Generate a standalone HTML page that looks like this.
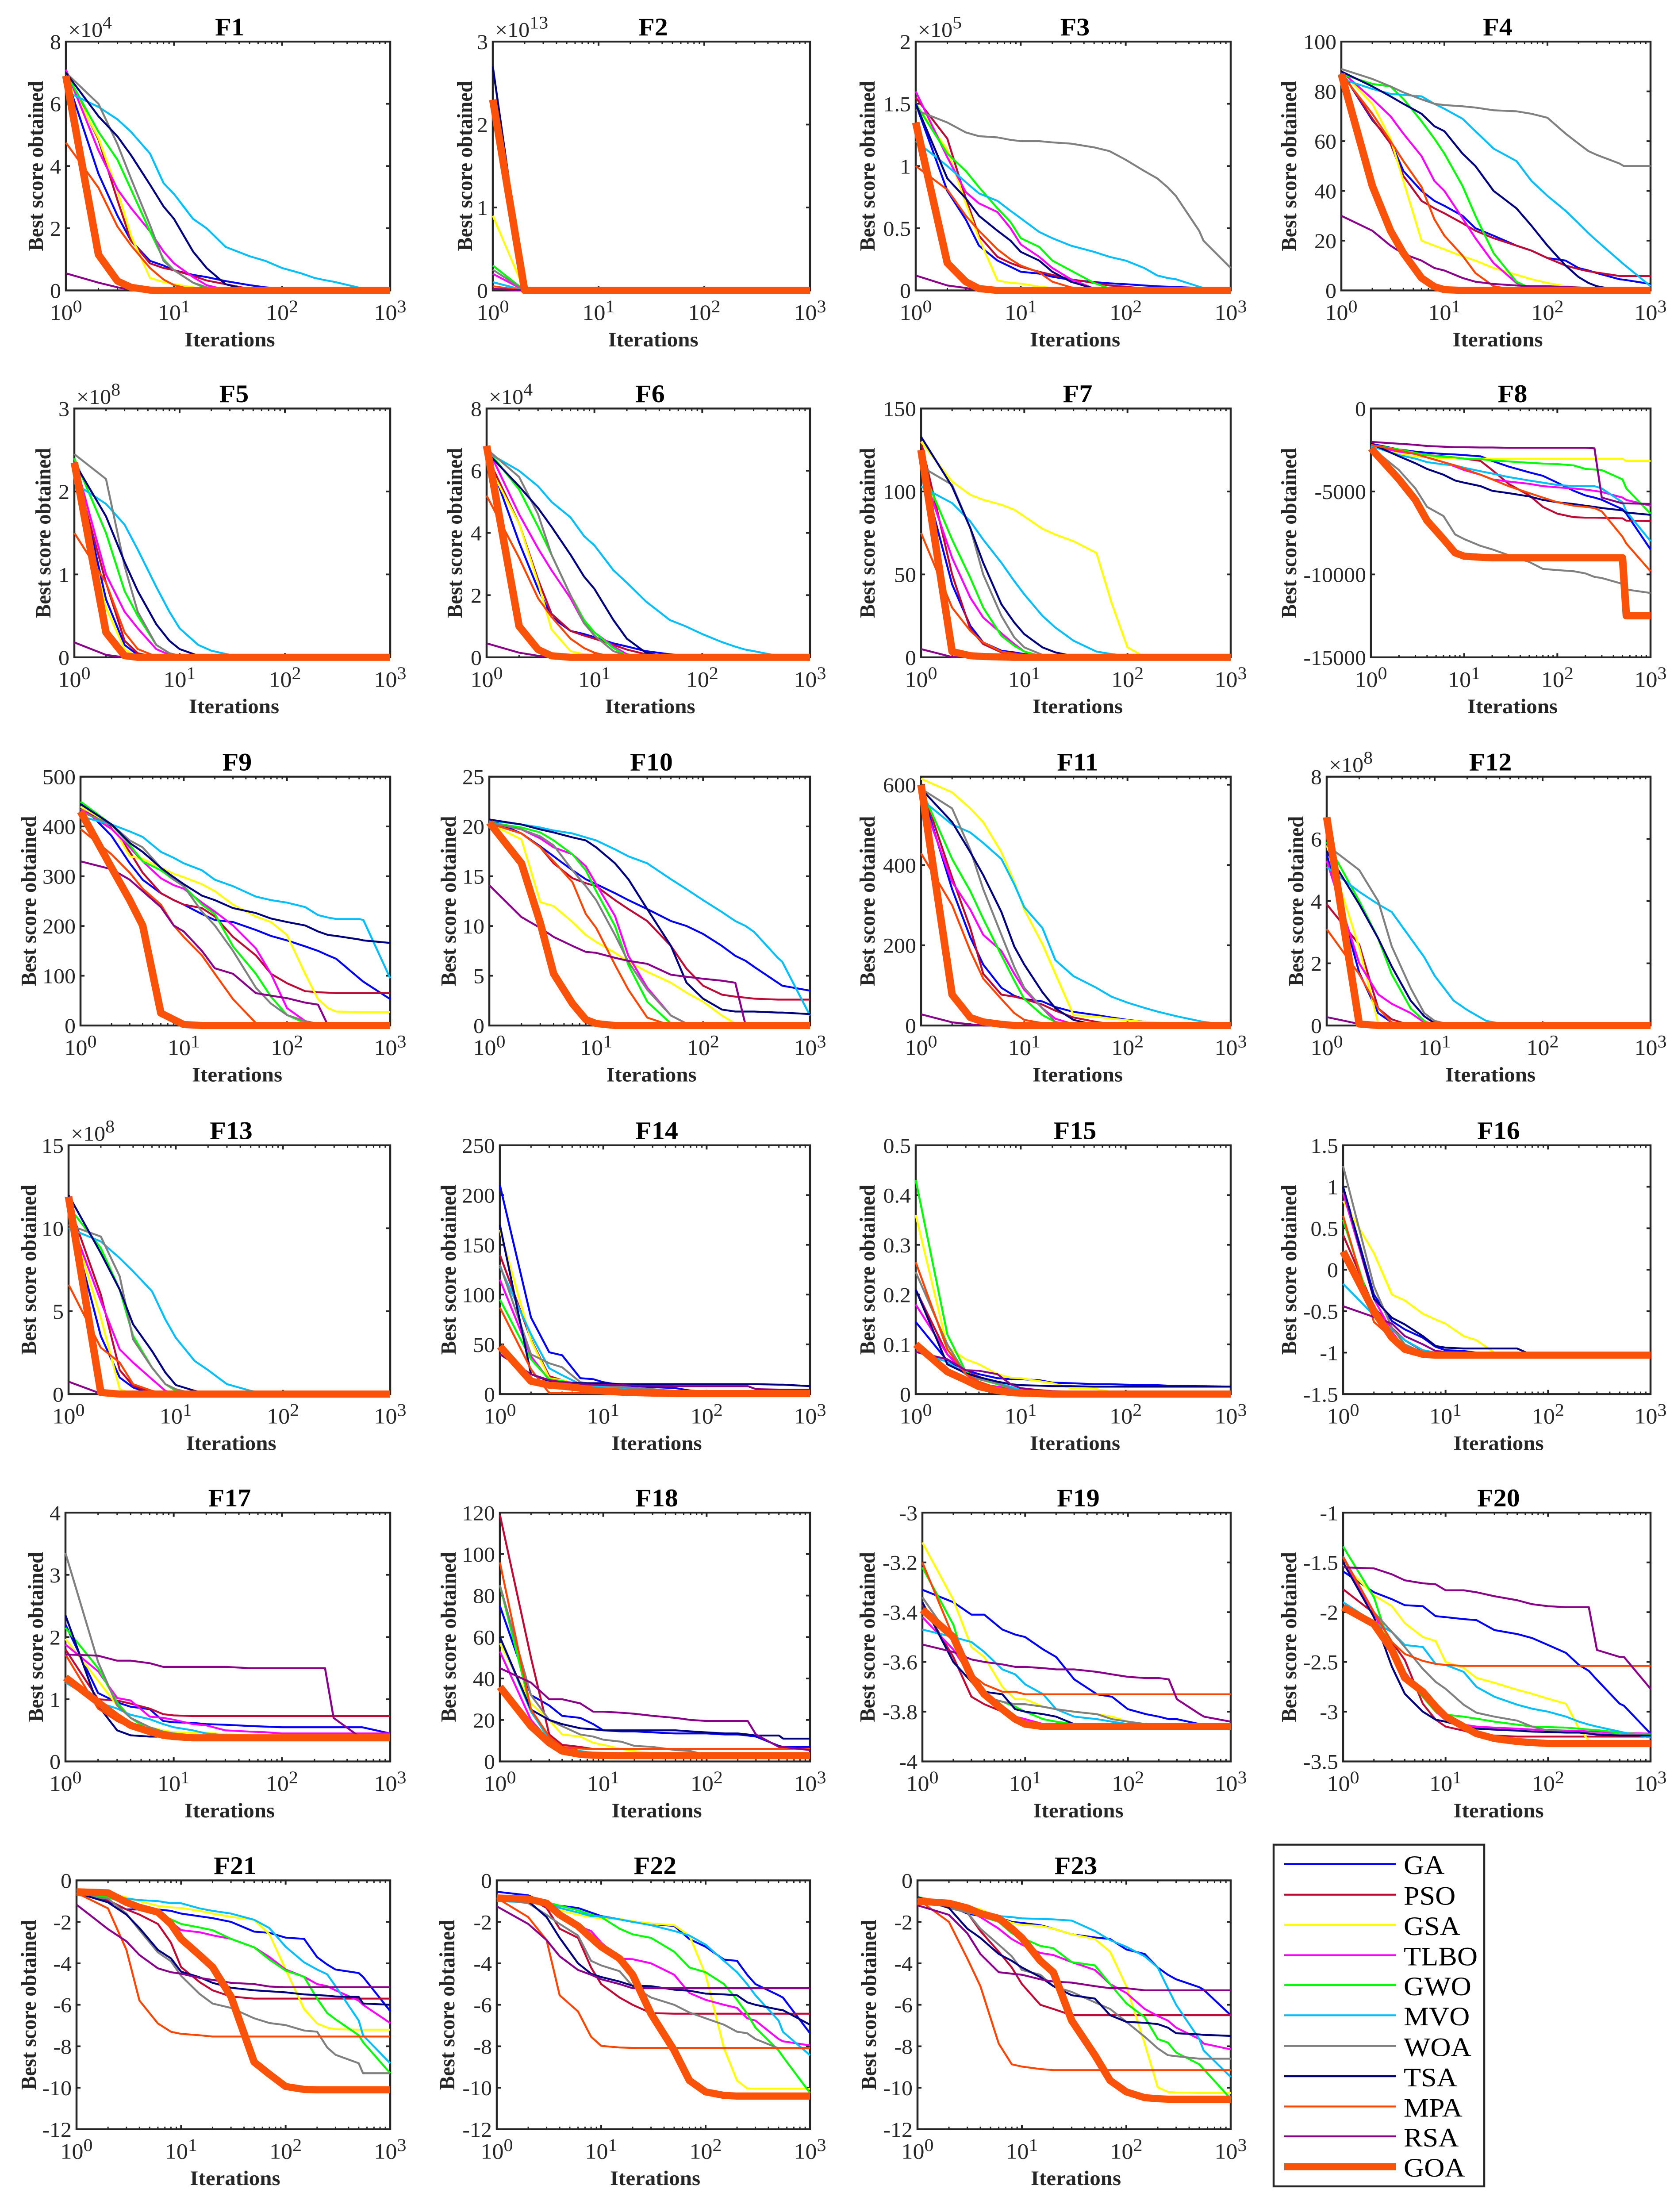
<!DOCTYPE html>
<html lang="en">
<head>
<meta charset="utf-8">
<title>Convergence curves F1-F23</title>
<style>
html,body{margin:0;padding:0;background:#fff;width:100%;height:100%;overflow:hidden}
svg{display:block;width:100vw;height:100vh}
text{font-family:"Liberation Serif",serif}
</style>
</head>
<body>
<svg id="figure" xmlns="http://www.w3.org/2000/svg" viewBox="0 0 3775 5263" preserveAspectRatio="none"></svg>
<script>
const iterations=[1,2,3,4,6,8,10,15,20,30,50,70,100,150,200,250,300,500,550,1000];
const seriesNames=['GA','PSO','GSA','TLBO','GWO','MVO','WOA','TSA','MPA','RSA','GOA'];
const seriesColors=['#0000ff','#c00a35','#ffff00','#ff00ff','#00ff00','#00bfff','#808080','#000080','#ff4500','#8b008b','#fa5208'];
const chartNames=['F1','F2','F3','F4','F5','F6','F7','F8','F9','F10','F11','F12','F13','F14','F15','F16','F17','F18','F19','F20','F21','F22','F23'];
const chartYTicks=[[0,2,4,6,8],[0,1,2,3],[0,0.5,1,1.5,2],[0,20,40,60,80,100],[0,1,2,3],[0,2,4,6,8],[0,50,100,150],[-15000,-10000,-5000,0],[0,100,200,300,400,500],[0,5,10,15,20,25],[0,200,400,600],[0,2,4,6,8],[0,5,10,15],[0,50,100,150,200,250],[0,0.1,0.2,0.3,0.4,0.5],[-1.5,-1,-0.5,0,0.5,1,1.5],[0,1,2,3,4],[0,20,40,60,80,100,120],[-4,-3.8,-3.6,-3.4,-3.2,-3],[-3.5,-3,-2.5,-2,-1.5,-1],[-12,-10,-8,-6,-4,-2,0],[-12,-10,-8,-6,-4,-2,0],[-12,-10,-8,-6,-4,-2,0]];
const chartYMax=[8,3,2,100,3,8,150,0,500,25,620,8,15,250,0.5,1.5,4,120,-3,-1,0,0,0];
const chartYExponents=[4,13,5,0,8,4,0,0,0,0,0,8,8,0,0,0,0,0,0,0,0,0,0];
const xTickExponents=[0,1,2,3];

const F1_GA=[6.9,3.75,2.4,1.6,.95,.8,.65,.5,.43,.3,.17,.1,.05,0];
const F1_PSO=[7,4.85,2.9,1.6,.87,.72,.65,.47,.32,.2,.05,0];
const F1_GSA=[6.9,4.9,3.2,1.76,.4,.27,.2,.1,.02,0];
const F1_TLBO=[7.1,4.5,3.25,2.65,1.9,1.25,.87,.43,.17,.02,0];
const F1_GWO=[7,5.1,4.2,3.25,1.9,1,.65,.25,.06,0];
const F1_MVO=[6.4,5.9,5.5,5.1,4.4,3.45,3.1,2.3,2,1.4,1.1,.95,.72,.55,.4,.33,.28,.1,.05,0];
const F1_WOA=[7,6,4.7,3.6,2.1,.95,.65,.25,.1,0];
const F1_TSA=[7,5.6,4.95,4.35,3.4,2.7,2.3,1.25,.72,.2,0];
const F1_MPA=[4.75,3.3,2.05,1.45,.72,.35,.17,.02,0];
const F1_RSA=[.55,.25,.1,.02,0];
const F1_GOA=[6.9,1.15,.3,.1,.01,0];
const F1_all=[F1_GA,F1_PSO,F1_GSA,F1_TLBO,F1_GWO,F1_MVO,F1_WOA,F1_TSA,F1_MPA,F1_RSA,F1_GOA];

const F2_GA=[.3,0];
const F2_PSO=[.1,0];
const F2_GSA=[.9,0];
const F2_TLBO=[.2,0];
const F2_GWO=[.3,0];
const F2_MVO=[.1,0];
const F2_WOA=[.25,0];
const F2_TSA=[2.7,0];
const F2_MPA=[.05,0];
const F2_RSA=[.02,0];
const F2_GOA=[2.3,0];
const F2_all=[F2_GA,F2_PSO,F2_GSA,F2_TLBO,F2_GWO,F2_MVO,F2_WOA,F2_TSA,F2_MPA,F2_RSA,F2_GOA];

const F3_GA=[1.5,.8,.57,.36,.24,.19,.15,.135,.11,.085,.067,.057,.05,.04,.033,.03,.028,.02,.02,.01];
const F3_PSO=[1.55,1.22,.74,.44,.27,.22,.19,.15,.125,.09,.06,.04,.03,.015,0];
const F3_GSA=[1.5,1.13,.7,.42,.08,.06,.055,.03,.02,.01,0];
const F3_TLBO=[1.6,1.07,.79,.7,.63,.5,.37,.27,.18,.09,.015,0];
const F3_GWO=[1.5,1.1,.96,.83,.66,.55,.42,.35,.24,.16,.06,.015,0];
const F3_MVO=[1.2,1,.87,.78,.72,.64,.58,.47,.42,.36,.31,.27,.24,.18,.12,.1,.09,.03,.02,0];
const F3_WOA=[1.45,1.35,1.27,1.24,1.23,1.21,1.2,1.2,1.19,1.18,1.15,1.12,1.05,.96,.9,.83,.76,.48,.4,.18];
const F3_TSA=[1.5,.9,.74,.6,.48,.4,.31,.24,.15,.07,.015,0];
const F3_MPA=[1,.81,.6,.48,.33,.25,.2,.145,.07,.025,0];
const F3_RSA=[.12,.04,.02,0];
const F3_GOA=[1.35,.22,.07,.015,0];
const F3_all=[F3_GA,F3_PSO,F3_GSA,F3_TLBO,F3_GWO,F3_MVO,F3_WOA,F3_TSA,F3_MPA,F3_RSA,F3_GOA];

const F4_GA=[88,68.5,60,48,40,36,34,30,25,22,18,16,13,12,9,8,7,4.5,4.3,2.6];
const F4_PSO=[88,69,59,46,36,33,31,27,24,21,18,16,13,10,8.6,7.7,7.2,5.8];
const F4_GSA=[88,75,61,44,20,18,16.5,13.7,12,9,6.3,4.5,3,1.7,1.2,1];
const F4_TLBO=[88,77,70,63,54,44,40,29,21,11,3,.7,0];
const F4_GWO=[87,83,82,77,68,61,55,42,30,15,3.5,.7,0];
const F4_MVO=[85,81,79,78.6,78,75,73,69,64,57,52,44,38,32,27,23,20,12,10.5,1.7];
const F4_WOA=[89,85,82,79.6,76.8,75,74.5,74,73.5,72.4,72,71,69.4,63,59,56,54.5,51,50,50];
const F4_TSA=[88,82,78,75,71,66,64,55,50,40,33,26,18,10,5.4,3,1.7,0];
const F4_MPA=[87,71,60,52,41.6,28.6,22,14,7,1.7,0];
const F4_RSA=[30,24,18,14.7,12,9,8,5,3.5,2.6,2,1.7,1.7,1.4,1.2,1];
const F4_GOA=[87,42,24,15,5,1.5,.3,0];
const F4_all=[F4_GA,F4_PSO,F4_GSA,F4_TLBO,F4_GWO,F4_MVO,F4_WOA,F4_TSA,F4_MPA,F4_RSA,F4_GOA];

const F5_GA=[2.4,.7,.15,.03,0];
const F5_PSO=[2.3,.9,.2,.05,0];
const F5_GSA=[2.2,.6,.1,0];
const F5_TLBO=[2.4,1,.55,.35,.1,.03,0];
const F5_GWO=[2.4,1.5,.8,.5,.15,.05,.02,0];
const F5_MVO=[2.1,1.85,1.6,1.3,.85,.55,.35,.15,.08,.03,.01,0];
const F5_WOA=[2.45,2.15,1.1,.55,.15,.05,.02,0];
const F5_TSA=[2.35,1.7,1.15,.8,.4,.2,.1,.02,0];
const F5_MPA=[1.5,.9,.3,.1,.01,0];
const F5_RSA=[.18,.03,0];
const F5_GOA=[2.35,.3,.02,0];
const F5_all=[F5_GA,F5_PSO,F5_GSA,F5_TLBO,F5_GWO,F5_MVO,F5_WOA,F5_TSA,F5_MPA,F5_RSA,F5_GOA];

const F6_GA=[6.6,3.7,2.2,1.3,.85,.75,.65,.45,.35,.2,.1,.05,0];
const F6_PSO=[6.5,4.3,2.5,1.4,.85,.7,.6,.4,.25,.1,.03,0];
const F6_GSA=[6.3,4.3,2.4,.9,.2,.1,.08,.02,0];
const F6_TLBO=[6.8,4.6,3.5,2.8,1.9,1.1,.8,.35,.1,0];
const F6_GWO=[6.7,5.4,4.2,3.3,2,1.2,.8,.3,.05,0];
const F6_MVO=[6.6,6,5.5,5,4.5,3.9,3.6,2.8,2.4,1.8,1.2,1,.75,.5,.35,.25,.2,.05,.03,0];
const F6_WOA=[6.7,5.8,4.6,3.3,2,1.1,.7,.2,.05,0];
const F6_TSA=[6.6,5.5,4.8,4.2,3.3,2.6,2.2,1.2,.6,.15,0];
const F6_MPA=[5.2,3.2,1.9,1.3,.6,.3,.15,0];
const F6_RSA=[.45,.15,.05,0];
const F6_GOA=[6.8,1,.25,.05,0];
const F6_all=[F6_GA,F6_PSO,F6_GSA,F6_TLBO,F6_GWO,F6_MVO,F6_WOA,F6_TSA,F6_MPA,F6_RSA,F6_GOA];

const F7_GA=[115,44,19,9,4,3,2,.7,0];
const F7_PSO=[130,50,17,8,3,2.5,1.5,.5,0];
const F7_GSA=[130,106,98,95,92,89,85,77.5,74,70,63,33,6,0];
const F7_TLBO=[115,60,36,24,14.5,8,3.5,0];
const F7_GWO=[115,71,48,30,13,7,3.5,.5,0];
const F7_MVO=[103,93,82,71,57,46,38,25,18,10,3.5,2,.7,0];
const F7_WOA=[115,104,78,50,25,12,6,1.5,0];
const F7_TSA=[133,103,78,57,32,21,14,6,3,.7,0];
const F7_MPA=[75,30,16,9,3.5,2,1.2,0];
const F7_RSA=[5,.2,0];
const F7_GOA=[125,3.5,1,.5,.2,0];
const F7_all=[F7_GA,F7_PSO,F7_GSA,F7_TLBO,F7_GWO,F7_MVO,F7_WOA,F7_TSA,F7_MPA,F7_RSA,F7_GOA];

const F8_GA=[-2120,-2470,-2600,-2670,-2740,-2770,-2810,-2880,-3160,-3500,-3850,-4060,-4470,-4960,-5240,-5370,-5500,-6070,-6340,-8490];
const F8_PSO=[-2190,-2470,-2670,-2810,-2880,-2950,-3020,-3160,-3710,-4540,-5240,-5930,-6340,-6550,-6580,-6580,-6590,-6620,-6760,-6790];
const F8_GSA=[-2260,-2740,-2880,-2950,-2990,-3000,-3020,-3020,-3030,-3030,-3030,-3030,-3030,-3030,-3030,-3030,-3030,-3030,-3160,-3160];
const F8_TLBO=[-2260,-2600,-2740,-2950,-3230,-3500,-3710,-3990,-4270,-4400,-4540,-4680,-4750,-4820,-4890,-4960,-5030,-5370,-5510,-5860];
const F8_GWO=[-2190,-2470,-2670,-2810,-2910,-2950,-3020,-3050,-3130,-3190,-3270,-3320,-3350,-3430,-3640,-3680,-3710,-4270,-4820,-6340];
const F8_MVO=[-2260,-2810,-3020,-3230,-3370,-3430,-3570,-3780,-3920,-4130,-4340,-4470,-4610,-4680,-4680,-4680,-4820,-5650,-6200,-8000];
const F8_WOA=[-2330,-3710,-4820,-5930,-6480,-7590,-7870,-8280,-8490,-8840,-9250,-9670,-9740,-9810,-9940,-10150,-10220,-10570,-10910,-11120];
const F8_TSA=[-2120,-2880,-3300,-3640,-3990,-4340,-4470,-4680,-4960,-5100,-5300,-5510,-5650,-5760,-5860,-5930,-6000,-6140,-6270,-6410];
const F8_MPA=[-2190,-2530,-2740,-2950,-3230,-3430,-3640,-3990,-4270,-4680,-5100,-5370,-5650,-5860,-5930,-6000,-6200,-7730,-8140,-9810];
const F8_RSA=[-2010,-2120,-2190,-2260,-2300,-2330,-2330,-2350,-2350,-2370,-2370,-2370,-2370,-2370,-2370,-2400,-5370,-5720,-5720,-5750];
const F8_GOA=[-2400,-4270,-5510,-6760,-7870,-8700,-8900,-8970,-9000,-9000,-9000,-9000,-9000,-9000,-9000,-9000,-9000,-9000,-12500,-12500];
const F8_all=[F8_GA,F8_PSO,F8_GSA,F8_TLBO,F8_GWO,F8_MVO,F8_WOA,F8_TSA,F8_MPA,F8_RSA,F8_GOA];

const F9_GA=[445,381,326,293,266,252,243,224,212,208,192,180,171,159,150,141,134,95,88,53];
const F9_PSO=[440,400,349,307,266,252,243,236,219,178,141,104,85,69,67,66,65];
const F9_GSA=[440,404,340,335,317,305,298,284,270,243,219,208,182,104,53,35,28,27];
const F9_TLBO=[435,395,358,330,296,282,275,247,229,201,155,104,35,9,3,0];
const F9_GWO=[450,404,363,330,312,293,280,243,224,159,104,58,21,5,0];
const F9_MVO=[420,404,390,379,349,337,326,312,293,280,259,252,247,238,222,217,214,214,212,95];
const F9_WOA=[430,404,372,358,317,293,280,229,201,150,76,44,21,9,0];
const F9_TSA=[445,404,367,349,317,298,284,261,252,236,226,215,208,201,189,182,180,173,171,166];
const F9_MPA=[395,344,307,275,243,201,178,141,104,53,5,0];
const F9_RSA=[330,314,293,270,238,201,189,150,115,104,65,60,55,46,42,0];
const F9_GOA=[430,317,252,201,25,12,2,0];
const F9_all=[F9_GA,F9_PSO,F9_GSA,F9_TLBO,F9_GWO,F9_MVO,F9_WOA,F9_TSA,F9_MPA,F9_RSA,F9_GOA];

const F10_GA=[20.7,19.3,18,17,15.6,14.7,14.2,13.3,12.6,11.7,10.5,10,9.2,8,7,6.5,5.9,4.3,4,3.5];
const F10_PSO=[20.4,19.3,17.9,16.3,14.8,14.3,14,12.6,11.7,10.5,8,5.7,4,3.1,2.9,2.8,2.7,2.6];
const F10_GSA=[20.3,18.7,12.4,12,10.4,9.1,8.4,7.3,6.4,5.4,4.3,3.3,2.4,1,.2,0];
const F10_TLBO=[20.4,19.7,18.8,17.9,17.2,16,14.2,11,7,3.8,1,.2,0];
const F10_GWO=[20.4,19.9,19.4,18.6,17.2,15.6,13.5,10,6.1,2.4,.2,0];
const F10_MVO=[20.6,20.2,19.9,19.6,19.3,18.9,18.6,17.7,17,16.3,14.7,13.7,12.6,11.4,10.5,10,9.4,6.8,6.4,1];
const F10_WOA=[20.4,19.7,19,18.1,15.6,14,12.6,9.1,6.4,3.6,1,.2,0];
const F10_TSA=[20.7,20.2,19.7,19.4,18.9,18.6,17.9,16.3,14.7,11.7,8,4.3,2.7,1.6,1.4,1.4,1.4,1.3,1.3,1.15];
const F10_MPA=[20.3,19.3,17.9,16.5,14.4,11.2,9.8,6.1,3.6,.8,0];
const F10_RSA=[14.1,10.9,9.8,8.9,8,7.4,7.3,6.8,6.5,6.2,5.1,4.9,4.7,4.5,4.3,0];
const F10_GOA=[20.4,16.3,10.3,5.2,2.2,.6,.2,0];
const F10_all=[F10_GA,F10_PSO,F10_GSA,F10_TLBO,F10_GWO,F10_MVO,F10_WOA,F10_TSA,F10_MPA,F10_RSA,F10_GOA];

const F11_GA=[590,340,220,152,94,74,66,60,46,34,26,20,14,9,3,0];
const F11_PSO=[600,369,243,129,77,72,66,52,37,20,9,3,0];
const F11_GSA=[615,581,541,507,432,358,289,203,129,26,22,17,13,9,7,6,5,0];
const F11_TLBO=[570,358,289,226,186,129,89,43,17,3,0];
const F11_GWO=[590,415,335,266,175,112,66,26,9,0];
const F11_MVO=[564,501,481,455,415,352,295,243,163,123,94,72,57,43,34,28,23,11,9,0];
const F11_WOA=[590,541,438,340,226,146,94,43,9,0];
const F11_TSA=[590,507,432,375,283,197,152,83,43,14,0];
const F11_MPA=[429,300,186,117,66,31,14,6,0];
const F11_RSA=[28,8,3,0];
const F11_GOA=[600,77,20,9,3,0];
const F11_all=[F11_GA,F11_PSO,F11_GSA,F11_TLBO,F11_GWO,F11_MVO,F11_WOA,F11_TSA,F11_MPA,F11_RSA,F11_GOA];

const F12_GA=[5.5,1.7,.4,.1,0];
const F12_PSO=[3.9,2.6,.55,.2,0];
const F12_GSA=[5.8,2.5,.07,0];
const F12_TLBO=[5.3,2,1,.7,.4,.1,0];
const F12_GWO=[5.9,4,2.8,1.65,.55,.15,0];
const F12_MVO=[5.1,4.3,3.9,3.65,2.8,2.2,1.6,.8,.5,.15,0];
const F12_WOA=[5.8,5,4,2.55,1.2,.4,.15,0];
const F12_TSA=[5.6,3.9,2.8,1.9,.8,.3,.07,0];
const F12_MPA=[3.1,1.65,.55,.1,0];
const F12_RSA=[.27,.05,0];
const F12_GOA=[6.7,.05,0];
const F12_all=[F12_GA,F12_PSO,F12_GSA,F12_TLBO,F12_GWO,F12_MVO,F12_WOA,F12_TSA,F12_MPA,F12_RSA,F12_GOA];

const F13_GA=[11,3.5,1,.4,0];
const F13_PSO=[11.5,6,1.45,.5,.1,0];
const F13_GSA=[11,4.6,.3,0];
const F13_TLBO=[10.8,5.6,2.7,1.9,.9,.2,0];
const F13_GWO=[11.3,8.8,6.3,3.5,1.6,.6,.2,0];
const F13_MVO=[10,9.2,8.2,7.4,6.2,4.5,3.4,2,1.45,.6,.2,0];
const F13_WOA=[10.2,9.5,7.1,3.3,1.6,.6,.3,0];
const F13_TSA=[12,8.5,6.3,4.2,2.6,1.3,.55,.2,0];
const F13_MPA=[6.6,2.8,1.9,.6,.2,0];
const F13_RSA=[.75,.03,0];
const F13_GOA=[11.9,.1,0];
const F13_all=[F13_GA,F13_PSO,F13_GSA,F13_TLBO,F13_GWO,F13_MVO,F13_WOA,F13_TSA,F13_MPA,F13_RSA,F13_GOA];

const F14_GA=[210,77,42,39,16,15,12,9,8,7,6,3.5,2.5,2];
const F14_PSO=[140,55,18,14,9,8,7,5,3,2];
const F14_GSA=[165,54,16,14,9,8,7,6,5,4.6,3.5,2];
const F14_TLBO=[115,38,14,13,10,8,7,5,4,3,2];
const F14_GWO=[95,35,15,13,10,8,7,6,5,4,3,2];
const F14_MVO=[128,60,26,19,10,8,7,6,5,4,3,2];
const F14_WOA=[130,40,31,27,12,10,9,7,6,5,3,2];
const F14_TSA=[170,20,13,12,11,11,11,10,10,10,10,10,10,10,10,10,10,9.5,9.5,8];
const F14_MPA=[87,25,1,1,1,.8,.5,0];
const F14_RSA=[40,20,14,12,10,9.5,9,9,8.5,8.5,8,8,8,8,8,8,5,4.5,4.5,4.5];
const F14_GOA=[48,13,9,8,6,4,3,2,1.5,1,.5];
const F14_all=[F14_GA,F14_PSO,F14_GSA,F14_TLBO,F14_GWO,F14_MVO,F14_WOA,F14_TSA,F14_MPA,F14_RSA,F14_GOA];

const F15_GA=[.145,.067,.048,.04,.032,.03,.03,.028,.023,.022,.02,.02,.019,.018,.018,.017,.017,.016,.016,.015];
const F15_PSO=[.21,.08,.045,.035,.02,.012,.008,.005,.004,.003,.002,.001,0];
const F15_GSA=[.36,.095,.07,.06,.04,.033,.032,.026,.022,.012,.011,.005,.002,0];
const F15_TLBO=[.18,.08,.04,.02,.015,.012,.008,.006,.005,.004,.002,.001,0];
const F15_GWO=[.43,.12,.045,.03,.02,.012,.007,.005,.004,.003,.002,.001,0];
const F15_MVO=[.085,.065,.04,.03,.022,.015,.008,.003,.002,.001,0];
const F15_WOA=[.245,.1,.04,.03,.022,.012,.003,.002,.001,0];
const F15_TSA=[.21,.06,.042,.034,.025,.02,.018,.017,.016,.016,.015];
const F15_MPA=[.265,.09,.04,.025,.012,.005,.002,.001,0];
const F15_RSA=[.085,.07,.048,.047,.04,.02,.012,.008,.006,.005,.004,.003,.002,.001,0];
const F15_GOA=[.1,.045,.028,.015,.007,.003,.002,.001,0];
const F15_all=[F15_GA,F15_PSO,F15_GSA,F15_TLBO,F15_GWO,F15_MVO,F15_WOA,F15_TSA,F15_MPA,F15_RSA,F15_GOA];

const F16_GA=[1,-.3,-.62,-.72,-.82,-.93,-.97,-.98,-1,-1.02,-1.03];
const F16_PSO=[.42,-.45,-.7,-.85,-.98,-1.01,-1.02,-1.03];
const F16_GSA=[.83,.2,-.3,-.37,-.53,-.6,-.65,-.8,-.85,-1,-1.01,-1.03];
const F16_TLBO=[.93,-.35,-.75,-.95,-1.01,-1.02,-1.03];
const F16_GWO=[.6,-.55,-.85,-.95,-1.01,-1.03];
const F16_MVO=[-.17,-.55,-.72,-.85,-.97,-1,-1.01,-1.02,-1.03];
const F16_WOA=[1.25,-.2,-.7,-.9,-1,-1.01,-1.03];
const F16_TSA=[1,-.35,-.58,-.66,-.8,-.92,-.94,-.95,-.95,-.95,-.95,-1.03];
const F16_MPA=[.65,-.63,-.82,-.95,-1,-1.02,-1.03];
const F16_RSA=[-.44,-.57,-.65,-.8,-.9,-.98,-.99,-1,-1.03];
const F16_GOA=[.22,-.5,-.82,-.96,-1.02,-1.03];
const F16_all=[F16_GA,F16_PSO,F16_GSA,F16_TLBO,F16_GWO,F16_MVO,F16_WOA,F16_TSA,F16_MPA,F16_RSA,F16_GOA];

const F17_GA=[2.2,1.1,.95,.88,.84,.65,.63,.62,.6,.59,.57,.56,.55,.55,.55,.55,.55,.55,.55,.45];
const F17_PSO=[1.8,1,.98,.93,.85,.76,.74,.73];
const F17_GSA=[1.97,1.3,.9,.7,.55,.5,.47,.46,.46,.44,.42,.4];
const F17_TLBO=[1.88,1.45,1.02,.98,.72,.7,.67,.6,.58,.5,.48,.47,.45];
const F17_GWO=[2.15,1.5,.95,.7,.5,.45,.43,.41,.4];
const F17_MVO=[1.27,.95,.85,.75,.68,.6,.55,.5,.45,.42,.4];
const F17_WOA=[3.35,1.6,.9,.7,.55,.48,.45,.42,.4];
const F17_TSA=[2.35,.9,.5,.42,.4];
const F17_MPA=[1.72,.85,.65,.55,.48,.43,.41,.4];
const F17_RSA=[1.72,1.7,1.62,1.62,1.58,1.52,1.52,1.52,1.52,1.52,1.5,1.5,1.5,1.5,1.5,1.5,.7,.42,.4];
const F17_GOA=[1.35,.95,.72,.58,.48,.42,.4,.38];
const F17_all=[F17_GA,F17_PSO,F17_GSA,F17_TLBO,F17_GWO,F17_MVO,F17_WOA,F17_TSA,F17_MPA,F17_RSA,F17_GOA];

const F18_GA=[75,32,27,22,21,18,15,14.5,14.5,14,13.5,13.5,13.5,13,13,12.5,12,7.5,7,7];
const F18_PSO=[119,50,13,8,7,6];
const F18_GSA=[57,28,20,13,12,9,8,6,5,4,3];
const F18_TLBO=[53,20,10,7,5,4,3.5,3];
const F18_GWO=[85,25,10,6,5,4,3.5,3];
const F18_MVO=[60,24,11,6,5,4,3.5,3];
const F18_WOA=[85,32,20,17,13,12,10.5,9.5,7.5,7,5.5,5,3];
const F18_TSA=[60,25,20,18,16,15.5,15,15,15,15,15,14.5,14,13.5,13.5,13,12.5,12.5,11,11];
const F18_MPA=[96,25,12,7,6.2,6];
const F18_RSA=[45,38,30,30,28,24,24,23.5,23,22,21,20,19.5,19.5,19.5,19.5,13,7,7,5.5];
const F18_GOA=[36,17,9,5,3.4,3,2.9,2.8];
const F18_all=[F18_GA,F18_PSO,F18_GSA,F18_TLBO,F18_GWO,F18_MVO,F18_WOA,F18_TSA,F18_MPA,F18_RSA,F18_GOA];

const F19_GA=[-3.31,-3.36,-3.41,-3.41,-3.47,-3.49,-3.5,-3.55,-3.58,-3.67,-3.73,-3.74,-3.79,-3.81,-3.82,-3.83,-3.83,-3.85,-3.85,-3.86];
const F19_PSO=[-3.37,-3.58,-3.74,-3.77,-3.8,-3.82,-3.83,-3.85,-3.86];
const F19_GSA=[-3.12,-3.35,-3.54,-3.58,-3.7,-3.75,-3.75,-3.78,-3.79,-3.8,-3.81,-3.82,-3.84,-3.85,-3.85,-3.86];
const F19_TLBO=[-3.42,-3.55,-3.66,-3.73,-3.78,-3.82,-3.83,-3.85,-3.85,-3.86];
const F19_GWO=[-3.22,-3.45,-3.68,-3.74,-3.76,-3.78,-3.8,-3.83,-3.84,-3.85,-3.85,-3.86];
const F19_MVO=[-3.47,-3.5,-3.52,-3.56,-3.63,-3.65,-3.69,-3.73,-3.79,-3.82,-3.83,-3.84,-3.85,-3.85,-3.86];
const F19_WOA=[-3.34,-3.52,-3.68,-3.74,-3.76,-3.77,-3.77,-3.78,-3.79,-3.8,-3.81,-3.83,-3.84,-3.85,-3.85,-3.86];
const F19_TSA=[-3.36,-3.6,-3.68,-3.72,-3.73,-3.79,-3.8,-3.81,-3.82,-3.85,-3.86];
const F19_MPA=[-3.2,-3.5,-3.65,-3.69,-3.72,-3.72,-3.73];
const F19_RSA=[-3.53,-3.56,-3.59,-3.6,-3.61,-3.62,-3.62,-3.625,-3.63,-3.63,-3.64,-3.65,-3.66,-3.665,-3.665,-3.67,-3.75,-3.81,-3.82,-3.84];
const F19_GOA=[-3.39,-3.5,-3.66,-3.73,-3.79,-3.83,-3.85,-3.86];
const F19_all=[F19_GA,F19_PSO,F19_GSA,F19_TLBO,F19_GWO,F19_MVO,F19_WOA,F19_TSA,F19_MPA,F19_RSA,F19_GOA];

const F20_GA=[-1.59,-1.8,-1.87,-1.93,-1.94,-2.04,-2.05,-2.07,-2.08,-2.18,-2.22,-2.26,-2.33,-2.41,-2.53,-2.59,-2.68,-2.92,-2.94,-3.22];
const F20_PSO=[-1.77,-2.01,-2.3,-2.48,-2.92,-3.08,-3.15,-3.19,-3.23,-3.24,-3.25];
const F20_GSA=[-1.52,-1.83,-1.94,-2.11,-2.25,-2.29,-2.5,-2.56,-2.66,-2.71,-2.78,-2.82,-2.87,-2.92,-3.17,-3.29,-3.3];
const F20_TLBO=[-1.5,-2,-2.42,-2.6,-2.85,-3,-3.08,-3.13,-3.15,-3.16,-3.17,-3.18,-3.185,-3.19,-3.19,-3.2,-3.2,-3.21,-3.215,-3.22];
const F20_GWO=[-1.34,-1.85,-2.4,-2.65,-2.85,-3,-3.03,-3.05,-3.07,-3.1,-3.13,-3.15,-3.155,-3.16,-3.17,-3.18,-3.185,-3.21,-3.215,-3.23];
const F20_MVO=[-1.9,-2.1,-2.2,-2.33,-2.35,-2.52,-2.53,-2.6,-2.75,-2.85,-2.93,-2.97,-3,-3.05,-3.1,-3.13,-3.15,-3.2,-3.21,-3.26];
const F20_WOA=[-1.44,-2,-2.2,-2.35,-2.57,-2.7,-2.77,-2.93,-3.01,-3.05,-3.09,-3.15,-3.19,-3.2,-3.21,-3.22,-3.22,-3.23,-3.23,-3.24];
const F20_TSA=[-1.5,-2.05,-2.55,-2.82,-3,-3.08,-3.1,-3.15,-3.17,-3.18,-3.19,-3.2,-3.205,-3.21,-3.21,-3.22,-3.23,-3.24];
const F20_MPA=[-1.45,-2,-2.3,-2.42,-2.49,-2.52,-2.53,-2.54];
const F20_RSA=[-1.55,-1.56,-1.62,-1.68,-1.71,-1.72,-1.78,-1.78,-1.8,-1.84,-1.88,-1.92,-1.94,-1.95,-1.95,-1.95,-2.38,-2.45,-2.45,-2.77];
const F20_GOA=[-1.95,-2.12,-2.38,-2.66,-2.8,-2.95,-3.05,-3.15,-3.22,-3.27,-3.3,-3.31,-3.32];
const F20_all=[F20_GA,F20_PSO,F20_GSA,F20_TLBO,F20_GWO,F20_MVO,F20_WOA,F20_TSA,F20_MPA,F20_RSA,F20_GOA];

const F21_GA=[-.6,-1,-1.4,-1.4,-1.4,-1.47,-1.6,-1.73,-1.82,-2,-2.47,-2.53,-2.76,-2.82,-3.7,-4.06,-4.3,-4.47,-4.65,-6.3];
const F21_PSO=[-.6,-.95,-1.4,-1.65,-2.1,-3,-4.18,-4.9,-5.3,-5.6,-5.7];
const F21_GSA=[-.45,-.6,-.82,-1,-1.23,-1.3,-1.33,-1.47,-1.6,-1.76,-1.9,-2.6,-4.3,-6.2,-6.9,-7.1,-7.18,-7.2];
const F21_TLBO=[-.6,-.76,-1,-1.23,-1.6,-2,-2.4,-2.5,-2.65,-2.82,-3.23,-3.7,-4.3,-4.65,-5,-5.1,-5.3,-5.8,-6,-6.88];
const F21_GWO=[-.6,-.82,-1.1,-1.35,-1.6,-1.88,-2.1,-2.27,-2.4,-2.82,-3.23,-3.82,-4.35,-4.65,-5.7,-6.4,-6.7,-7.47,-7.8,-9.3];
const F21_MVO=[-.6,-.65,-.88,-.95,-1,-1.1,-1.1,-1.35,-1.47,-1.6,-1.9,-2.3,-3.2,-3.95,-4.3,-4.53,-5.1,-6.76,-7.47,-8.82];
const F21_WOA=[-.7,-.88,-1.6,-2.4,-3.47,-3.9,-4.6,-5.47,-5.94,-6.15,-6.65,-6.88,-6.98,-7.24,-7.3,-8.06,-8.41,-8.82,-9.3];
const F21_TSA=[-.6,-1.06,-1.65,-2.3,-3.35,-3.76,-4.4,-4.67,-4.94,-5.18,-5.3,-5.35,-5.4,-5.5,-5.53,-5.56,-5.6,-5.62,-5.94,-6];
const F21_MPA=[-.6,-1.35,-3.35,-5.8,-6.9,-7.3,-7.4,-7.47,-7.53];
const F21_RSA=[-1.17,-2.35,-2.94,-3.6,-4.24,-4.43,-4.5,-4.7,-4.8,-4.94,-5,-5.12,-5.15];
const F21_GOA=[-.55,-.6,-1.06,-1.3,-1.53,-2.1,-2.82,-3.6,-4.18,-5.6,-8.76,-9.35,-9.94,-10.08,-10.1];
const F21_all=[F21_GA,F21_PSO,F21_GSA,F21_TLBO,F21_GWO,F21_MVO,F21_WOA,F21_TSA,F21_MPA,F21_RSA,F21_GOA];

const F22_GA=[-.55,-.72,-1.1,-1.22,-1.33,-1.55,-1.72,-1.88,-2,-2.1,-2.2,-2.83,-3.2,-3.82,-3.88,-4.55,-5,-5.54,-5.65,-7.37];
const F22_PSO=[-.8,-.83,-1.33,-2.33,-2.77,-4.2,-5,-5.65,-6,-6.4,-6.43];
const F22_GSA=[-.8,-.9,-1.16,-1.44,-1.66,-1.77,-1.83,-1.86,-1.97,-2.08,-2.16,-2.66,-4.55,-8.1,-9.65,-10.03,-10.05];
const F22_TLBO=[-.9,-.9,-1.22,-1.66,-2.2,-2.44,-3,-3.77,-3.8,-4,-4.55,-5.43,-5.76,-6,-6.15,-6.65,-6.76,-7.65,-7.76,-7.96];
const F22_GWO=[-.8,-.9,-1.05,-1.22,-1.44,-1.66,-1.77,-2.33,-2.6,-2.77,-3.44,-4.2,-4.43,-5,-5.76,-6.43,-7.1,-8.2,-8.5,-10.25];
const F22_MVO=[-1,-1.05,-1.1,-1.33,-1.55,-1.72,-1.74,-1.88,-2,-2.16,-2.44,-2.66,-3.1,-3.88,-4.43,-5,-5.54,-6.76,-7.3,-8.43];
const F22_WOA=[-.9,-1.1,-1.66,-2.1,-2.66,-3.88,-4.1,-4.38,-5.1,-5.65,-6,-6.37,-6.65,-6.96,-7.3,-7.37,-7.65,-8.1];
const F22_TSA=[-.75,-1,-1.77,-2.77,-4,-4.5,-4.66,-4.88,-5.08,-5.1,-5.27,-5.32,-5.46,-5.5,-5.54,-5.88,-6,-6.23,-6.26,-6.96];
const F22_MPA=[-.85,-1.77,-2.88,-5.54,-6.32,-7.54,-7.98,-8.06,-8.08];
const F22_RSA=[-1.25,-2.1,-2.88,-3.66,-4.32,-4.55,-4.77,-5,-5.2];
const F22_GOA=[-.85,-.9,-1.1,-1.66,-2.2,-2.77,-3.2,-3.77,-4.55,-6.43,-8.2,-9.65,-10.2,-10.37,-10.4];
const F22_all=[F22_GA,F22_PSO,F22_GSA,F22_TLBO,F22_GWO,F22_MVO,F22_WOA,F22_TSA,F22_MPA,F22_RSA,F22_GOA];

const F23_GA=[-.8,-1.22,-1.6,-1.72,-1.78,-2,-2.05,-2.16,-2.33,-2.6,-2.75,-2.83,-3.33,-3.55,-4.2,-4.55,-4.77,-5.15,-5.27,-6.5];
const F23_PSO=[-.9,-1.22,-1.55,-2.44,-3.44,-4.2,-5,-6,-6.2,-6.5];
const F23_GSA=[-.9,-1.1,-1.27,-1.39,-1.77,-2.05,-2.14,-2.2,-2.33,-2.6,-2.83,-3.44,-5.1,-7.87,-9.98,-10.2,-10.23,-10.25];
const F23_TLBO=[-.9,-1.1,-1.44,-1.77,-2.33,-2.83,-3.1,-3.5,-3.6,-3.94,-4.32,-5,-5.43,-6.2,-6.54,-6.76,-7.1,-7.65,-7.87,-8.15];
const F23_GWO=[-.8,-1.1,-1.44,-1.72,-2,-2.55,-2.77,-3.16,-3.27,-3.94,-4.1,-5,-5.93,-6.6,-7.65,-7.82,-8.3,-8.87,-9.1,-10.53];
const F23_MVO=[-.9,-1.1,-1.55,-1.66,-1.72,-1.77,-1.83,-1.86,-1.88,-1.94,-2.44,-2.88,-3.2,-3.66,-4.2,-5.2,-6,-7.65,-8.2,-9.48];
const F23_WOA=[-.9,-1.33,-1.55,-2.33,-3.1,-3.66,-4.32,-4.55,-5.1,-5.38,-5.88,-6.2,-6.82,-7.54,-8.1,-8.43,-8.48,-8.6];
const F23_TSA=[-.8,-1.33,-2.33,-2.77,-3.55,-3.88,-4.2,-4.66,-5.1,-5.54,-5.7,-6.5,-6.82,-6.87,-6.93,-7.1,-7.37,-7.43,-7.45,-7.5];
const F23_MPA=[-.9,-2,-3.77,-5.1,-7.87,-8.87,-8.98,-9.1,-9.15];
const F23_RSA=[-1.2,-1.66,-2.55,-3.55,-4.43,-4.5,-4.55,-4.77,-4.88,-4.93,-5.1,-5.2,-5.2,-5.3];
const F23_GOA=[-1,-1.1,-1.33,-1.6,-1.83,-2.33,-2.77,-3.88,-4.43,-6.76,-8.43,-9.65,-10.2,-10.48,-10.53,-10.55];
const F23_all=[F23_GA,F23_PSO,F23_GSA,F23_TLBO,F23_GWO,F23_MVO,F23_WOA,F23_TSA,F23_MPA,F23_RSA,F23_GOA];

const chartSeries=[F1_all,F2_all,F3_all,F4_all,F5_all,F6_all,F7_all,F8_all,F9_all,F10_all,F11_all,F12_all,F13_all,F14_all,F15_all,F16_all,F17_all,F18_all,F19_all,F20_all,F21_all,F22_all,F23_all];

/* layout (pixels) */
const plotLefts=[149,1114,2070,3032,168,1100,2082,3099,182,1106,2082,2999,155,1130,2070,3036,148,1130,2085,3036,173,1123,2074];
const yLabelCenters=[80,1050,1960,2913,97,1027,1960,2913,64,1013,1960,2929,64,1013,1960,2913,80,1013,1960,2913,64,1010,1963];
const colRights=[882,1831,2782,3731];
const rowTops=[99,972,1848,2725,3599,4474];
const plotHeight=592;
const INK='#262626';
const svg=document.getElementById('figure');
const NS='http://www.w3.org/2000/svg';

function mk(tag,attrs,parent){
  const el=document.createElementNS(NS,tag);
  for(const k in attrs)el.setAttribute(k,attrs[k]);
  (parent||svg).appendChild(el);
  return el;
}
function addSup(textEl,base,sup,supSize,rise){
  const a=mk('tspan',{},textEl);a.textContent=base;
  const b=mk('tspan',{dy:-rise,'font-size':supSize},textEl);b.textContent=sup;
}
function seg(g,x1,y1,x2,y2,w){
  return mk('line',{x1:x1,y1:y1,x2:x2,y2:y2,stroke:INK,'stroke-width':w},g);
}

chartNames.forEach(function(name,c){
  const left=plotLefts[c], right=colRights[c%4], top=rowTops[Math.floor(c/4)], bottom=top+plotHeight;
  const ticks=chartYTicks[c], yMin=ticks[0], yMax=chartYMax[c], expo=chartYExponents[c];
  const xScale=function(v){return left+(Math.log10(v)/3)*(right-left);};
  const yScale=function(v){return bottom-(v-yMin)/(yMax-yMin)*(bottom-top);};
  const cx=(left+right)/2+4, cy=(top+bottom)/2;

  const g=mk('g',{});
  
  

  const box=mk('rect',{x:left,y:top,width:right-left,height:bottom-top,fill:'#fff',stroke:INK,'stroke-width':4.5},g);
  
  

  const tickG=mk('g',{},g);
  
  
  ticks.forEach(function(t){
    const y=yScale(t);
    seg(tickG,left,y,left+9,y,4);
    seg(tickG,right,y,right-9,y,4);
    const lab=mk('text',{x:left-11,y:y+18,'font-size':50,'text-anchor':'end',fill:INK},g);
    lab.textContent=String(t);
    
    
  });
  xTickExponents.forEach(function(e){
    const v=Math.pow(10,e), x=xScale(v);
    seg(tickG,x,bottom,x,bottom-10,4);
    seg(tickG,x,top,x,top+10,4);
    if(e<3){
      for(let m=2;m<10;m++){
        const xm=xScale(m*v);
        seg(tickG,xm,bottom,xm,bottom-6,3);
        seg(tickG,xm,top,xm,top+6,3);
      }
    }
    const lab=mk('text',{x:x,y:bottom+70,'font-size':52,'text-anchor':'middle',fill:INK},g);
    addSup(lab,'10',String(e),42,18);
    
    
  });

  const title=mk('text',{x:cx,y:top-15,'font-size':60,'font-weight':'bold','text-anchor':'middle',fill:'#000'},g);
  title.textContent=name;
  
  

  const xl=mk('text',{x:cx,y:bottom+133,'font-size':49,'font-weight':'bold','text-anchor':'middle',fill:INK},g);
  xl.textContent='Iterations';
  
  

  const lx=yLabelCenters[c]+17;
  const yl=mk('text',{x:lx,y:cy,'font-size':49,'font-weight':'bold','text-anchor':'middle',fill:INK,transform:'rotate(-90 '+lx+' '+cy+')'},g);
  yl.textContent='Best score obtained';
  
  

  if(expo){
    const ex=mk('text',{x:left+5,y:top-11,'font-size':50,fill:INK},g);
    addSup(ex,'\u00d710',String(expo),42,20);
    
    
  }

  chartSeries[c].forEach(function(vals,s){
    const pts=iterations.map(function(it,i){
      const v=i<vals.length?vals[i]:vals[vals.length-1];
      return xScale(it).toFixed(1)+','+yScale(v).toFixed(1);
    });
    const line=mk('polyline',{points:pts.join(' '),fill:'none',stroke:seriesColors[s],'stroke-width':s===10?17:4.5,'stroke-linejoin':'round'},g);
    
    
  });
});

/* legend */
const legendRowY=[4435,4508,4580,4652,4723,4795,4868,4940,5012,5083,5155];
const legend=mk('g',{});


const legendBox=mk('rect',{x:2879,y:4389,width:476,height:813,fill:'#fff',stroke:INK,'stroke-width':4.5},legend);


seriesNames.forEach(function(n,s){
  const y=legendRowY[s];
  const e=mk('g',{},legend);
  
  
  mk('line',{x1:2903,x2:3155,y1:y,y2:y,stroke:seriesColors[s],'stroke-width':s===10?17:4.5},e);
  const t=mk('text',{x:3173,y:y+24,'font-size':64,fill:'#000'},e);
  t.textContent=n;
});
</script>
</body>
</html>
